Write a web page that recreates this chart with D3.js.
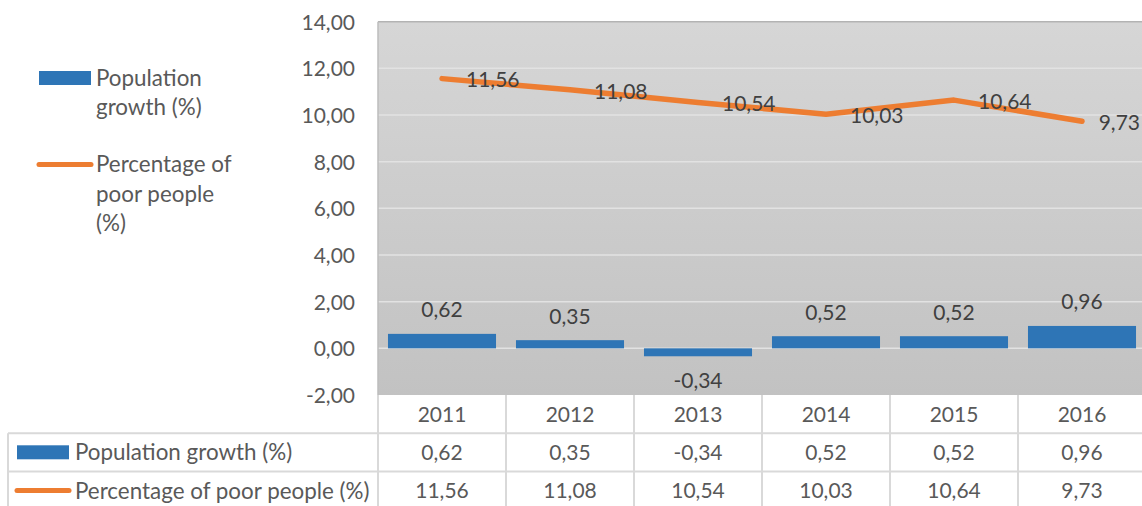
<!DOCTYPE html>
<html>
<head>
<meta charset="utf-8">
<script src="https://cdn.jsdelivr.net/npm/d3@7"></script>
<style>
  body { margin: 0; background: #fff; }
  text { font-family: Lato, "Open Sans", sans-serif; }
</style>
</head>
<body>
<div id="chart"></div>
<script>
(function() {
  // data
  var years = ['2011', '2012', '2013', '2014', '2015', '2016']
  var growth = [0.62, 0.35, -0.34, 0.52, 0.52, 0.96]
  var poor = [11.56, 11.08, 10.54, 10.03, 10.64, 9.73]
  var yTicks = [-2, 0, 2, 4, 6, 8, 10, 12, 14]
  var seriesNames = ['Population growth (%)', 'Percentage of poor people (%)']

  var W = 1142, H = 506
  var plot = { left: 378, right: 1146, top: 21.7, bottom: 395 }
  var rowH = 38.3
  var tableLeft = 8
  var numSize = '21px', wordSize = '22.4px'
  var fmt = d => d.toFixed(2).replace('.', ',')

  var svg = d3.select('#chart')
    .append('svg')
    .attr('width', W)
    .attr('height', H)

  // Scales obvs
  var x = d3.scaleBand().domain(years).range([plot.left, plot.right]).paddingInner(0.156).paddingOuter(0.078)
  var xCell = d3.scaleBand().domain(years).range([plot.left, plot.right])
  var y = d3.scaleLinear().domain([-2, 14]).range([plot.bottom, plot.top])

  // plot area background, light on top and darker below
  var grad = svg.append('defs').append('linearGradient')
    .attr('id', 'bg').attr('x1', 0).attr('y1', 0).attr('x2', 0).attr('y2', 1)
  grad.append('stop').attr('offset', '0%').attr('stop-color', '#d6d6d6')
  grad.append('stop').attr('offset', '100%').attr('stop-color', '#c2c2c2')

  svg.append('rect')
    .attr('x', plot.left).attr('y', plot.top)
    .attr('width', plot.right - plot.left).attr('height', plot.bottom - plot.top)
    .attr('fill', 'url(#bg)')

  // gridlines
  svg.append('g')
    .selectAll('line')
    .data(yTicks.filter(d => d > -2 && d < 14))
    .join('line')
    .attr('x1', plot.left).attr('x2', plot.right)
    .attr('y1', d => y(d)).attr('y2', d => y(d))
    .attr('stroke', '#e2e2e2').attr('stroke-width', 1.5)

  svg.append('line')
    .attr('x1', plot.left).attr('x2', plot.right)
    .attr('y1', plot.top).attr('y2', plot.top)
    .attr('stroke', '#b3b3b3').attr('stroke-width', 1.5)
  svg.append('line')
    .attr('x1', plot.left).attr('x2', plot.left)
    .attr('y1', plot.top).attr('y2', plot.bottom)
    .attr('stroke', '#bdbdbd').attr('stroke-width', 1.5)

  // y axis labels
  var yAxis = d3.axisLeft(y).tickValues(yTicks).tickFormat(fmt).tickSize(0).tickPadding(23)
  var yg = svg.append('g')
    .attr('transform', `translate(${plot.left},0)`)
    .call(yAxis)
  yg.select('.domain').remove()
  yg.selectAll('text')
    .attr('fill', '#595959')
    .style('font-size', numSize)
    .attr('dy', '0.35em')

  // bars
  svg.append('g')
    .selectAll('rect')
    .data(growth)
    .join('rect')
    .attr('x', (d, i) => x(years[i]))
    .attr('width', x.bandwidth())
    .attr('y', d => y(Math.max(0, d)))
    .attr('height', d => Math.abs(y(d) - y(0)))
    .attr('fill', '#2e75b6')

  svg.append('g')
    .selectAll('text')
    .data(growth)
    .join('text')
    .attr('x', (d, i) => x(years[i]) + x.bandwidth() / 2)
    .attr('y', d => d >= 0 ? y(d) - 24 : y(d) + 24)
    .attr('dy', '0.35em')
    .attr('text-anchor', 'middle')
    .attr('fill', '#404040')
    .style('font-size', numSize)
    .text(fmt)

  // line
  var line = d3.line()
    .x((d, i) => xCell(years[i]) + xCell.bandwidth() / 2)
    .y(d => y(d))

  svg.append('path')
    .attr('d', line(poor))
    .attr('fill', 'none')
    .attr('stroke', '#ed7d31')
    .attr('stroke-width', 5.5)
    .attr('stroke-linecap', 'round')
    .attr('stroke-linejoin', 'round')

  svg.append('g')
    .selectAll('text')
    .data(poor)
    .join('text')
    .attr('dy', '0.35em')
    .attr('y', d => y(d) + 1.5)
    .attr('fill', '#404040')
    .style('font-size', numSize)
    .text(fmt)
    .attr('x', function(d, i) {
      // labels sit right of the point, pushed back in if they'd spill off the chart
      var px = xCell(years[i]) + xCell.bandwidth() / 2
      var w = this.getComputedTextLength()
      return Math.min(px + 24, W - 2 - w)
    })

  // data table under the chart
  var rows = [plot.bottom, plot.bottom + rowH, plot.bottom + 2 * rowH, plot.bottom + 3 * rowH]
  var table = svg.append('g')

  table.selectAll('.hline')
    .data(rows.slice(1))
    .join('line')
    .attr('x1', tableLeft).attr('x2', plot.right)
    .attr('y1', d => d).attr('y2', d => d)
    .attr('stroke', '#d9d9d9').attr('stroke-width', 2)

  table.append('line')
    .attr('x1', tableLeft).attr('x2', tableLeft)
    .attr('y1', rows[1]).attr('y2', rows[3])
    .attr('stroke', '#d9d9d9').attr('stroke-width', 2)

  table.selectAll('.vline')
    .data(years)
    .join('line')
    .attr('x1', d => xCell(d)).attr('x2', d => xCell(d))
    .attr('y1', rows[0]).attr('y2', rows[3])
    .attr('stroke', '#d9d9d9').attr('stroke-width', 2)

  var xAxis = d3.axisBottom(xCell).tickSize(0).tickPadding(0)
  var xg = table.append('g')
    .attr('transform', `translate(0,${rows[0]})`)
    .call(xAxis)
  xg.select('.domain').remove()
  xg.selectAll('text')
    .attr('y', rowH / 2)
    .attr('dy', '0.35em')
    .attr('fill', '#595959')
    .style('font-size', numSize)

  var rowVals = [growth, poor]
  rowVals.forEach(function(vals, r) {
    table.append('g')
      .selectAll('text')
      .data(vals)
      .join('text')
      .attr('x', (d, i) => xCell(years[i]) + xCell.bandwidth() / 2)
      .attr('y', rows[r + 1] + rowH / 2)
      .attr('dy', '0.35em')
      .attr('text-anchor', 'middle')
      .attr('fill', '#595959')
      .style('font-size', numSize)
      .text(fmt)

    table.append('text')
      .attr('x', 75)
      .attr('y', rows[r + 1] + rowH / 2)
      .attr('dy', '0.35em')
      .attr('fill', '#595959')
      .style('font-size', wordSize)
      .text(seriesNames[r])
  })

  // table legend keys
  table.append('rect')
    .attr('x', 17).attr('y', rows[1] + 12)
    .attr('width', 52).attr('height', 14)
    .attr('fill', '#2e75b6')
  table.append('line')
    .attr('x1', 17).attr('x2', 69)
    .attr('y1', rows[2] + 19).attr('y2', rows[2] + 19)
    .attr('stroke', '#ed7d31').attr('stroke-width', 5).attr('stroke-linecap', 'round')

  // side legend
  var legend = svg.append('g')
  legend.append('rect')
    .attr('x', 39).attr('y', 71)
    .attr('width', 52).attr('height', 14)
    .attr('fill', '#2e75b6')
  legend.append('line')
    .attr('x1', 39).attr('x2', 91)
    .attr('y1', 164.5).attr('y2', 164.5)
    .attr('stroke', '#ed7d31').attr('stroke-width', 5).attr('stroke-linecap', 'round')

  var legendLines = [
    [['Population', 78], ['growth (%)', 107]],
    [['Percentage of', 164], ['poor people', 194], ['(%)', 223]]
  ]
  legendLines.forEach(function(lines) {
    legend.append('g')
      .selectAll('text')
      .data(lines)
      .join('text')
      .attr('x', 96)
      .attr('y', d => d[1])
      .attr('dy', '0.35em')
      .attr('fill', '#595959')
      .style('font-size', wordSize)
      .text(d => d[0])
  })
})()
</script>
</body>
</html>
